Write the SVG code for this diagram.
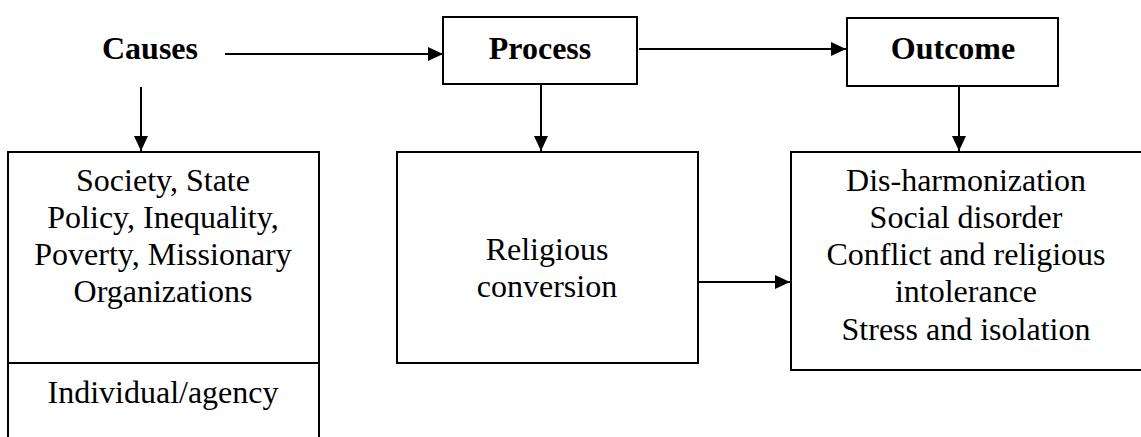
<svg xmlns="http://www.w3.org/2000/svg" width="1141" height="437" viewBox="0 0 1141 437">
<style>
.box{fill:#fff;stroke:#000;stroke-width:2}
.ln{fill:none;stroke:#000;stroke-width:2}
.t{font-family:"Liberation Serif","Times New Roman",serif;font-size:32px;fill:#000;text-anchor:middle}
.b{font-weight:bold}
</style>
<defs>
<marker id="ah" markerWidth="16" markerHeight="14" refX="15" refY="7" orient="auto" markerUnits="userSpaceOnUse">
<path d="M0,0 L15,7 L0,14 Z" fill="#000"/>
</marker>
</defs>
<rect width="1141" height="437" fill="#fff"/>
<g id="causes"><text class="t b" x="150" y="59">Causes</text></g>
<g id="process"><rect class="box" x="443" y="17" width="194" height="67"/><text class="t b" x="540" y="59">Process</text></g>
<g id="outcome"><rect class="box" x="847" y="18" width="211" height="68"/><text class="t b" x="953" y="59">Outcome</text></g>
<g id="causes-box">
<path class="ln" d="M8,440 V152 H319 V440 M8,363 H319"/>
<text class="t" x="163" y="191">Society, State</text>
<text class="t" x="163" y="228">Policy, Inequality,</text>
<text class="t" x="163" y="265">Poverty, Missionary</text>
<text class="t" x="163" y="302">Organizations</text>
<text class="t" x="163" y="403">Individual/agency</text>
</g>
<g id="process-box"><rect class="box" x="397" y="152" width="301" height="211"/>
<text class="t" x="547" y="260">Religious</text>
<text class="t" x="547" y="297">conversion</text>
</g>
<g id="outcome-box"><rect class="box" x="791" y="152" width="360" height="218"/>
<text class="t" x="966" y="191">Dis-harmonization</text>
<text class="t" x="966" y="228">Social disorder</text>
<text class="t" x="966" y="265">Conflict and religious</text>
<text class="t" x="966" y="302">intolerance</text>
<text class="t" x="966" y="340">Stress and isolation</text>
</g>
<g id="connectors">
<line class="ln" x1="225" y1="54" x2="443" y2="54" marker-end="url(#ah)"/>
<line class="ln" x1="639" y1="49" x2="846" y2="49" marker-end="url(#ah)"/>
<line class="ln" x1="141" y1="87" x2="141" y2="151" marker-end="url(#ah)"/>
<line class="ln" x1="541" y1="84" x2="541" y2="151" marker-end="url(#ah)"/>
<line class="ln" x1="959" y1="86" x2="959" y2="151" marker-end="url(#ah)"/>
<line class="ln" x1="698" y1="282" x2="790" y2="282" marker-end="url(#ah)"/>
</g>
</svg>
